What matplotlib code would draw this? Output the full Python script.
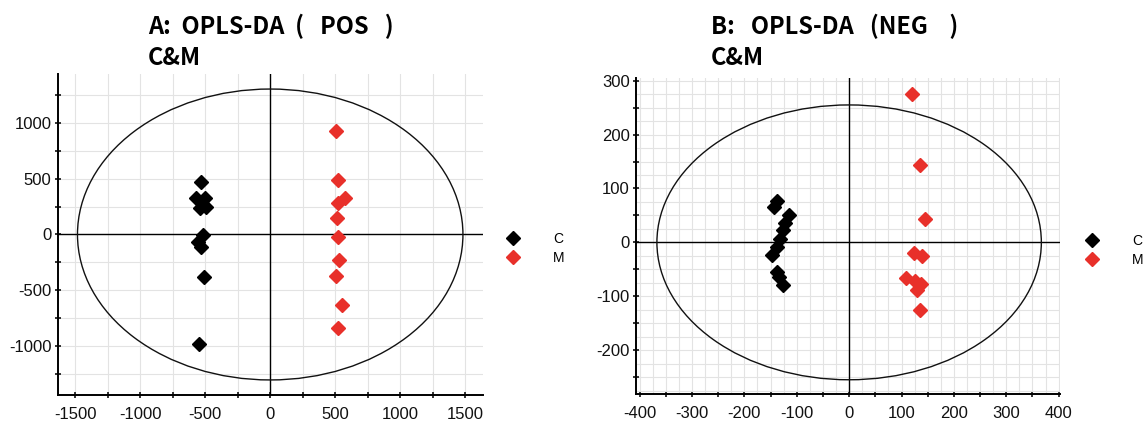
import matplotlib
matplotlib.use('Agg')
import matplotlib.pyplot as plt
from matplotlib.patches import Ellipse
from matplotlib.lines import Line2D
from matplotlib.ticker import MultipleLocator

plt.rcParams['font.family'] = ['Liberation Sans', 'DejaVu Sans']
plt.rcParams['axes.unicode_minus'] = False

# score values
pos_c_x = [-532, -574, -499, -541, -493, -516, -557, -532, -513, -548]
pos_c_y = [473, 324, 324, 241, 247, -5, -63, -116, -384, -982]
pos_m_x = [503, 522, 577, 525, 517, 522, 533, 503, 550, 525]
pos_m_y = [928, 488, 324, 280, 152, -24, -226, -369, -637, -836]

neg_c_x = [-138, -143, -114, -122, -127, -132, -138, -148, -137, -133, -127]
neg_c_y = [77, 66, 51, 35, 23, 7, -8, -24, -55, -64, -79]
neg_m_x = [120, 136, 145, 124, 140, 108, 126, 137, 130, 135]
neg_m_y = [275, 144, 43, -19, -25, -66, -72, -77, -89, -126]

group_names = ['C', 'M']
group_colors = ['#000000', '#e8302a']

fig = plt.figure(figsize=(11.43, 4.26), dpi=100)
axA = fig.add_axes([0.0505, 0.0728, 0.3718, 0.7535])
axB = fig.add_axes([0.5564, 0.0744, 0.3707, 0.7425])


def setup(ax, xlim, ylim, major, minor, ell):
    ax.set_xlim(*xlim)
    ax.set_ylim(*ylim)
    ax.xaxis.set_major_locator(MultipleLocator(major))
    ax.yaxis.set_major_locator(MultipleLocator(major))
    ax.xaxis.set_minor_locator(MultipleLocator(minor))
    ax.yaxis.set_minor_locator(MultipleLocator(minor))
    for s in ['top', 'right']:
        ax.spines[s].set_visible(False)
    for s in ['left', 'bottom']:
        ax.spines[s].set_linewidth(1.4)
    ax.tick_params(which='both', direction='inout', length=5, width=1.2,
                   labelsize=12, colors='#111111')
    ax.tick_params(axis='x', pad=6)
    ax.tick_params(axis='y', pad=2)
    ax.axhline(0, color='k', lw=1.0, zorder=2)
    ax.axvline(0, color='k', lw=1.0, zorder=2)
    ax.add_patch(Ellipse((0, 0), 2 * ell[0], 2 * ell[1], fill=False,
                         edgecolor='#111111', lw=1.0, zorder=2))


setup(axA, (-1635, 1635), (-1440, 1440), 500, 250, (1483, 1305))
axA.grid(which='both', color='#e3e3e3', lw=0.8, zorder=0)

setup(axB, (-407, 402), (-282, 305), 100, 50, (367, 255))
# grid is finer than the ticks in panel B
axB.set_xticks(range(-400, 401, 25), minor=True)
axB.set_yticks(range(-275, 301, 25), minor=True)
axB.grid(which='both', color='#e3e3e3', lw=0.8, zorder=0)
for axis in (axB.xaxis, axB.yaxis):
    for t, loc in zip(axis.get_minor_ticks(), axis.get_minorticklocs()):
        if loc % 50 != 0:
            t.tick1line.set_visible(False)

for ax, xs, ys in [(axA, [pos_c_x, pos_m_x], [pos_c_y, pos_m_y]),
                   (axB, [neg_c_x, neg_m_x], [neg_c_y, neg_m_y])]:
    for gx, gy, col in zip(xs, ys, group_colors):
        ax.plot(gx, gy, ls='', marker='D', ms=7, color=col, mec=col, zorder=3)

handles = [Line2D([], [], ls='', marker='D', ms=7, color=c) for c in group_colors]
for anchor in [(0.4427, 0.4167), (0.9493, 0.4115)]:
    fig.legend(handles, group_names, loc='center left', bbox_to_anchor=anchor,
               bbox_transform=fig.transFigure, frameon=False, fontsize=10,
               handlelength=1, handletextpad=2.4, borderpad=0, borderaxespad=0,
               labelspacing=0.35)

tfont = dict(family=['Noto Sans CJK SC', 'DejaVu Sans'], fontsize=17,
             weight='bold', va='baseline')
fig.text(148 / 1143, 1 - 34 / 426, 'A:  OPLS-DA  (   POS   )', **tfont)
fig.text(148 / 1143, 1 - 65 / 426, 'C&M', **tfont)
fig.text(711 / 1143, 1 - 34 / 426, 'B:   OPLS-DA   (NEG    )', **tfont)
fig.text(711 / 1143, 1 - 65 / 426, 'C&M', **tfont)

fig.savefig('out.png', dpi=100)
